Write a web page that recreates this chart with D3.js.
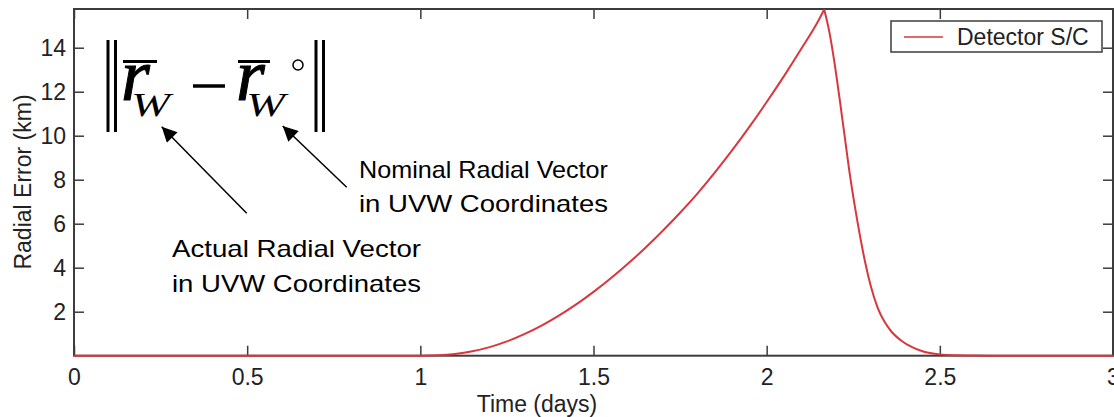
<!DOCTYPE html>
<html>
<head>
<meta charset="utf-8">
<script src="https://cdn.jsdelivr.net/npm/d3@7"></script>
<style>
  html, body { margin: 0; padding: 0; background: #fff; }
  svg { display: block; }
  .sans { font-family: "Liberation Sans", Arial, Helvetica, sans-serif; }
  .math { font-family: "Liberation Serif", "Times New Roman", serif; font-style: italic; }
</style>
</head>
<body>
<svg id="chart" width="1114" height="417"></svg>
<script>
// Radial error of the detector spacecraft over time
const riseDays = [0, 0.5, 1.0, 1.05, 1.1, 1.15, 1.2, 1.25, 1.3, 1.35, 1.4, 1.45, 1.5, 1.55, 1.6, 1.65, 1.7, 1.75, 1.8, 1.85, 1.9, 1.95, 2.0, 2.05, 2.1, 2.15, 2.166];
const riseErrKm = [0, 0, 0, 0.02, 0.08, 0.2, 0.39, 0.65, 0.98, 1.37, 1.82, 2.33, 2.9, 3.52, 4.19, 4.91, 5.68, 6.5, 7.37, 8.32, 9.33, 10.4, 11.53, 12.71, 13.95, 15.25, 15.74];
const fallDays = [2.166, 2.18, 2.195, 2.21, 2.225, 2.24, 2.255, 2.27, 2.285, 2.3, 2.32, 2.34, 2.36, 2.39, 2.42, 2.45, 2.5, 2.55, 2.6, 2.7, 3.0];
const fallErrKm = [15.74, 14.8, 13.4, 11.75, 10.0, 8.25, 6.75, 5.4, 4.2, 3.2, 2.2, 1.55, 1.1, 0.67, 0.39, 0.2, 0.06, 0.02, 0.005, 0, 0];
const xTicks = [0, 0.5, 1, 1.5, 2, 2.5, 3];
const yTicks = [2, 4, 6, 8, 10, 12, 14];
const seriesName = "Detector S/C";
const xLabel = "Time (days)";
const yLabel = "Radial Error (km)";
const noteActual = ["Actual Radial Vector", "in UVW Coordinates"];
const noteNominal = ["Nominal Radial Vector", "in UVW Coordinates"];

const svg = d3.select("#chart");
const axisColor = "#3c3c3c";
const lineColor = "#d9363e";

const plot = { left: 74, right: 1113, top: 9, bottom: 355.7 };
const x = d3.scaleLinear().domain([0, 3]).range([plot.left, plot.right]);
const y = d3.scaleLinear().domain([0, 15.76]).range([plot.bottom, plot.top]);

// frame
svg.append("rect")
  .attr("x", plot.left).attr("y", plot.top)
  .attr("width", plot.right - plot.left).attr("height", plot.bottom - plot.top)
  .attr("fill", "none").attr("stroke", axisColor).attr("stroke-width", 2);

const tickLen = 10;
function styleAxis(g) {
  g.select(".domain").remove();
  g.selectAll(".tick line").attr("stroke", axisColor).attr("stroke-width", 1.5);
}
function styleLabels(g) {
  g.selectAll(".tick text")
    .attr("class", "sans")
    .attr("fill", "#222")
    .attr("font-size", 23);
}

// bottom axis with inward ticks
svg.append("g")
  .attr("transform", `translate(0,${plot.bottom})`)
  .call(d3.axisBottom(x).tickValues(xTicks).tickFormat(d3.format("~g")).tickSizeInner(-tickLen).tickSizeOuter(0).tickPadding(0))
  .call(styleAxis)
  .call(styleLabels)
  .call(g => g.selectAll(".tick text").attr("y", 29).attr("dy", 0));

// top axis ticks
svg.append("g")
  .attr("transform", `translate(0,${plot.top})`)
  .call(d3.axisTop(x).tickValues(xTicks).tickFormat("").tickSizeInner(-tickLen).tickSizeOuter(0))
  .call(styleAxis);

// left axis
svg.append("g")
  .attr("transform", `translate(${plot.left},0)`)
  .call(d3.axisLeft(y).tickValues(yTicks).tickFormat(d3.format("d")).tickSizeInner(-tickLen).tickSizeOuter(0).tickPadding(0))
  .call(styleAxis)
  .call(styleLabels)
  .call(g => g.selectAll(".tick text").attr("x", -8).attr("dy", "0.36em"));

// right axis ticks
svg.append("g")
  .attr("transform", `translate(${plot.right},0)`)
  .call(d3.axisRight(y).tickValues(yTicks).tickFormat("").tickSizeInner(-tickLen).tickSizeOuter(0))
  .call(styleAxis);

// axis titles
svg.append("text").attr("class", "sans")
  .attr("x", 537).attr("y", 412)
  .attr("text-anchor", "middle").attr("font-size", 23).attr("fill", "#222")
  .text(xLabel);

svg.append("text").attr("class", "sans")
  .attr("transform", "translate(31,182) rotate(-90)")
  .attr("text-anchor", "middle").attr("font-size", 23).attr("fill", "#222")
  .text(yLabel);

// series: rising and decaying branches meet at a sharp peak
const line = d3.line()
  .x(d => x(d[0]))
  .y(d => y(d[1]))
  .curve(d3.curveMonotoneX);

[[riseDays, riseErrKm], [fallDays, fallErrKm]].forEach(([ts, vs]) => {
  svg.append("path")
    .datum(d3.zip(ts, vs))
    .attr("d", line)
    .attr("fill", "none")
    .attr("stroke", lineColor)
    .attr("stroke-width", 2)
    .attr("stroke-linejoin", "round");
});

// legend
const lg = svg.append("g");
lg.append("rect")
  .attr("x", 891).attr("y", 21).attr("width", 211).attr("height", 31)
  .attr("fill", "#fff").attr("stroke", axisColor).attr("stroke-width", 1.5);
lg.append("line")
  .attr("x1", 904).attr("x2", 943).attr("y1", 37).attr("y2", 37)
  .attr("stroke", lineColor).attr("stroke-width", 1.5);
lg.append("text").attr("class", "sans")
  .attr("x", 957).attr("y", 45).attr("font-size", 23).attr("fill", "#222")
  .text(seriesName);

// formula: || r_W - r_W° ||
const fm = svg.append("g");
const bar = (x1, y1, x2, y2, w) => fm.append("line")
  .attr("x1", x1).attr("y1", y1).attr("x2", x2).attr("y2", y2)
  .attr("stroke", "#000").attr("stroke-width", w);
bar(108, 40, 108, 132, 3);
bar(115.5, 40, 115.5, 132, 3);
bar(316, 40, 316, 132, 3);
bar(323.5, 40, 323.5, 132, 3);
bar(123, 61.5, 157, 61.5, 3);
bar(238, 61.5, 270, 61.5, 3);
bar(193, 86, 225, 86, 3.5);

[121, 236].forEach(rx => {
  fm.append("text").attr("class", "math")
    .attr("x", rx).attr("y", 100)
    .attr("font-size", 74).attr("fill", "#000")
    .attr("stroke", "#000").attr("stroke-width", 1)
    .text("r");
});
[131, 246].forEach(wx => {
  fm.append("text").attr("class", "math")
    .attr("x", wx).attr("y", 116)
    .attr("font-size", 33).attr("fill", "#000")
    .attr("textLength", 39).attr("lengthAdjust", "spacingAndGlyphs")
    .text("W");
});
fm.append("circle").attr("cx", 298).attr("cy", 65).attr("r", 5)
  .attr("fill", "none").attr("stroke", "#000").attr("stroke-width", 1.5);

// arrows
svg.append("defs").append("marker")
  .attr("id", "head").attr("viewBox", "0 0 10 10")
  .attr("refX", 10).attr("refY", 5)
  .attr("markerWidth", 19).attr("markerHeight", 15)
  .attr("markerUnits", "userSpaceOnUse")
  .attr("orient", "auto")
  .append("path").attr("d", "M0,0 L10,5 L0,10 Z").attr("fill", "#000");

[[246.7, 213.3, 161.7, 126.7], [346.7, 187.3, 282.7, 126]].forEach(([x1, y1, x2, y2]) => {
  svg.append("line")
    .attr("x1", x1).attr("y1", y1).attr("x2", x2).attr("y2", y2)
    .attr("stroke", "#000").attr("stroke-width", 1.5)
    .attr("marker-end", "url(#head)");
});

// annotation notes
function note(lines, x0, y0, gap) {
  lines.forEach((t, i) => {
    svg.append("text").attr("class", "sans")
      .attr("x", x0).attr("y", y0 + i * gap)
      .attr("font-size", 24).attr("fill", "#000")
      .attr("textLength", 249).attr("lengthAdjust", "spacingAndGlyphs")
      .text(t);
  });
}
note(noteActual, 172, 257, 35);
note(noteNominal, 359, 178, 34);
</script>
</body>
</html>
